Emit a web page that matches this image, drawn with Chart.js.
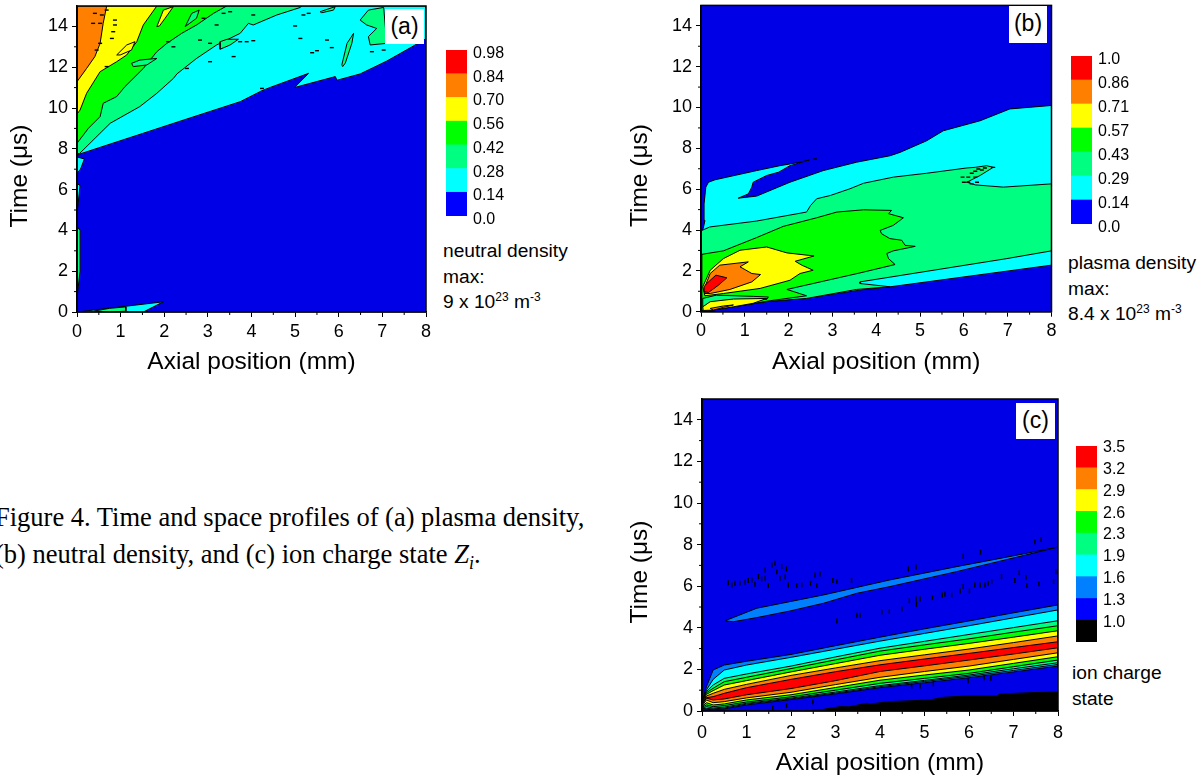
<!DOCTYPE html>
<html>
<head>
<meta charset="utf-8">
<title>Figure 4</title>
<script src="https://cdn.jsdelivr.net/npm/chart.js@4"></script>
<style>
    html, body { margin: 0; background: #fff; overflow: hidden; }
    body { width: 1204px; height: 780px; position: relative; font-family: "Liberation Sans", Arial, sans-serif; color: #000; }
    canvas { position: absolute; }
    .tag { position: absolute; background: #fff; font-size: 23px; text-align: center; line-height: 35px; }
    .note { position: absolute; font-size: 19.2px; line-height: 25.5px; white-space: nowrap; }
    .note sup { font-size: 12px; line-height: 0; }
    #caption { position: absolute; left: -5px; top: 499px; font-family: "Liberation Serif", serif; font-size: 26.5px; line-height: 37px; white-space: nowrap; }
    #caption sub { font-size: 18px; line-height: 0; }
</style>
</head>
<body>
<canvas id="chart-a" width="440" height="385" style="left:0;top:0"></canvas>
<canvas id="chart-b" width="440" height="385" style="left:620px;top:0"></canvas>
<canvas id="chart-c" width="450" height="390" style="left:620px;top:390px"></canvas>
<canvas id="bar-a" width="90" height="200" style="left:440px;top:35px"></canvas>
<canvas id="bar-b" width="90" height="200" style="left:1065px;top:41px"></canvas>
<canvas id="bar-c" width="90" height="226" style="left:1070px;top:431px"></canvas>

<div class="tag" style="left:385px;top:9px;width:39px;height:35px">(a)</div>
<div class="tag" style="left:1009px;top:6px;width:38px;height:37px">(b)</div>
<div class="tag" style="left:1016px;top:403px;width:39px;height:36px">(c)</div>

<div class="note" style="left:443px;top:238px">neutral density<br>max:<br>9 x 10<sup>23</sup> m<sup>-3</sup></div>
<div class="note" style="left:1068px;top:250px">plasma density<br>max:<br>8.4 x 10<sup>23</sup> m<sup>-3</sup></div>
<div class="note" style="left:1072px;top:660px">ion charge<br>state</div>
<div id="caption">Figure 4. Time and space profiles of (a) plasma density,<br>(b) neutral density, and (c) ion charge state <i>Z<sub>i</sub></i>.</div>

<script>
const BLUE = '#0000e6', LIGHT = '#0080ff', CYAN = '#00ffff', SPRING = '#00ff80';
const GREEN = '#00ff00', YELLOW = '#ffff00', ORANGE = '#ff8000', RED = '#ff0000';

const xTicksMinor = [0.5, 1.5, 2.5, 3.5, 4.5, 5.5, 6.5, 7.5];
const yTicksMinor = [1, 3, 5, 7, 9, 11, 13];
const plotBox = [[0, 0], [8, 0], [8, 15], [0, 15]];

// colour bars, bottom to top
const barColorsA = ['#0000ff', CYAN, SPRING, GREEN, YELLOW, ORANGE, RED];
const barLabelsA = ['0.0', '0.14', '0.28', '0.42', '0.56', '0.70', '0.84', '0.98'];
const barLabelsB = ['0.0', '0.14', '0.29', '0.43', '0.57', '0.71', '0.86', '1.0'];
const barColorsC = ['#000000', '#0000ff', LIGHT, CYAN, SPRING, GREEN, YELLOW, ORANGE, RED];
const barLabelsC = ['', '1.0', '1.3', '1.6', '1.9', '2.3', '2.6', '2.9', '3.2', '3.5'];

// panel (a) regions, [axial mm, time us]
const aCyan = [[0, 7.7], [0.5, 8.05], [1.5, 8.75], [2.5, 9.45], [3.74, 10.31], [4.24, 10.85], [4.43, 11.01], [5.31, 11.7], [4.98, 11.0], [5.92, 11.54], [5.96, 11.36], [6.49, 11.67], [7.1, 12.3], [7.68, 13.0], [8, 13.4], [8, 15], [0, 15]];
const aCyanStrip = [[0, 7.6], [0.17, 7.5], [0.08, 7.0], [0, 6.8]];
const aStripLow = [[0, 0.7], [0.07, 2.0], [0.07, 4.0], [0, 4.2]];
const aStripMid = [[0, 4.8], [0.07, 6.2], [0, 6.3]];
const aSpring = [[0.05, 7.75], [0.76, 9.25], [1.44, 10.07], [1.83, 10.72], [2.21, 11.45], [2.29, 11.67], [2.74, 12.43], [3.2, 13.09], [3.74, 13.66], [3.93, 14.15], [4.04, 14.07], [4.58, 14.56], [5.12, 14.93], [5.15, 15], [0, 15], [0, 7.8]];
const aGreen = [[0, 8.27], [0.26, 9.0], [0.53, 9.58], [0.6, 10.23], [0.91, 10.56], [1.1, 11.05], [1.52, 11.94], [1.83, 12.76], [2.06, 13.17], [2.4, 13.66], [2.74, 14.07], [3.13, 14.64], [3.43, 15], [0, 15]];
const aYellow = [[0.07, 9.9], [0.22, 10.72], [0.53, 11.78], [0.91, 12.27], [1.14, 12.6], [1.37, 13.25], [1.52, 14.07], [1.83, 15], [0, 15], [0, 9.7]];
const aOrange = [[0, 11.29], [0.22, 11.94], [0.41, 12.52], [0.53, 13.17], [0.6, 14.15], [0.68, 15], [0, 15]];
const aSliverCyan = [[0, 0], [1.98, 0.5], [1.52, 0]];
const aSliverSpring = [[0.4, 0.05], [0.75, 0.18], [1.12, 0.25], [1.12, 0.04], [0.75, 0]];
const aIslandsSpring = [
    [[1.25, 12.19], [1.44, 12.35], [1.83, 12.43], [1.6, 12.11], [1.29, 12.03]],
    [[2.48, 13.99], [2.63, 14.64], [2.8, 14.8], [2.74, 14.4]],
    [[3.28, 12.88], [3.51, 13.09], [3.7, 13.37], [3.44, 13.37], [3.28, 13.25]],
    [[6.49, 14.31], [6.68, 14.8], [7.03, 14.93], [7.1, 13.17], [6.72, 13.09], [6.68, 13.5], [6.87, 13.9], [6.64, 14.07]],
    [[6.07, 12.11], [6.19, 13.17], [6.34, 13.66], [6.3, 13.17], [6.15, 12.2], [6.09, 12.03]],
    [[5.57, 14.72], [5.92, 14.97], [5.88, 14.8], [5.61, 14.67]]
];
const aIslandsYellow = [
    [[0.91, 12.6], [1.14, 13.09], [1.33, 13.25], [1.25, 12.84], [0.99, 12.6]],
    [[1.83, 13.99], [1.98, 14.8], [2.21, 14.97], [2.02, 14.4], [1.89, 14.02]]
];
const aSpecks = [[0.68, 14.8], [0.57, 14.56], [0.41, 14.64], [0.37, 14.15], [0.53, 14.15], [0.87, 14.31], [0.87, 14.07], [0.83, 13.74], [0.8, 13.41], [0.45, 12.84], [0.53, 13.17], [0.68, 12.03], [2.09, 13.25], [2.21, 13.0], [2.82, 13.33], [3.05, 13.17], [3.05, 12.27], [3.59, 12.52], [3.2, 14.07], [2.9, 14.4], [3.36, 14.64], [3.51, 14.72], [2.52, 11.94], [4.04, 14.56], [5.19, 14.56], [5.31, 14.64], [5.12, 13.41], [5.73, 13.33], [5.84, 12.96], [5.5, 12.81], [5.39, 12.71], [3.74, 13.25], [3.89, 13.25], [4.04, 13.3], [4.24, 10.96], [6.76, 12.76], [7.03, 12.84], [5.0, 14.02]];

// panel (b) regions
const bCyan = [[0.05, 4.07], [0.09, 4.47], [0.07, 5.28], [0.11, 6.1], [0.17, 6.34], [0.32, 6.46], [1.27, 6.91], [1.8, 7.15], [2.26, 7.32], [2.47, 7.43], [2.03, 7.15], [1.77, 6.83], [1.5, 6.67], [1.19, 6.34], [1.16, 6.1], [1.08, 5.77], [0.85, 5.56], [1.27, 5.66], [2.03, 6.34], [2.79, 6.91], [3.55, 7.32], [4.32, 7.64], [4.54, 7.8], [5.15, 8.37], [5.53, 8.86], [6.37, 9.35], [7.05, 9.93], [8, 10.1], [8, 2.28], [4.32, 1.22], [3.63, 1.06], [2.41, 0.65], [1.5, 0.49], [0.2, 0.08], [0, 0], [0, 3.9]];
const bSpring = [[0.02, 3.98], [0.2, 4.15], [1.27, 4.44], [2.41, 4.88], [2.5, 5.2], [2.64, 5.53], [2.95, 5.69], [3.4, 6.02], [3.71, 6.29], [4.39, 6.59], [5.15, 6.78], [6.07, 7.04], [6.26, 7.07], [6.52, 7.15], [6.67, 7.07], [6.37, 6.67], [6.14, 6.42], [6.07, 6.34], [6.26, 6.21], [6.9, 6.1], [8, 6.26], [8, 2.98], [6.98, 2.6], [3.63, 1.46], [3.63, 1.38], [4.32, 1.22], [3.55, 1.09], [2.41, 0.65], [1.5, 0.5], [0.6, 0.2], [0, 0], [0, 3.9]];
const bGreen = [[0.02, 2.81], [0.51, 2.98], [1.27, 3.63], [1.88, 4.18], [2.64, 4.6], [3.1, 4.88], [3.71, 4.99], [4.35, 4.96], [4.28, 4.8], [4.62, 4.6], [4.39, 4.23], [4.09, 3.98], [4.12, 3.82], [4.31, 3.58], [4.58, 3.5], [4.66, 3.25], [4.89, 3.2], [4.39, 2.98], [4.24, 2.85], [4.28, 2.6], [4.43, 2.31], [3.63, 1.9], [1.96, 1.09], [2.41, 0.78], [1.58, 0.54], [0.51, 0.16], [0, 0.05]];
const bYellow = [[0.04, 1.22], [0.21, 2.03], [0.51, 2.6], [0.89, 3.01], [1.5, 3.17], [1.96, 2.88], [2.58, 2.73], [2.15, 2.47], [2.3, 2.28], [2.56, 2.03], [2.26, 1.87], [2.03, 1.54], [1.35, 1.14], [0.51, 0.89], [0.09, 0.78]];
const bOrange = [[0.09, 1.22], [0.21, 1.87], [0.43, 2.28], [1.08, 2.44], [0.89, 2.2], [1.16, 1.87], [1.36, 1.82], [1.16, 1.46], [0.66, 1.09], [0.21, 0.89], [0.07, 0.89]];
const bRed = [[0.07, 1.22], [0.13, 1.38], [0.34, 1.79], [0.59, 1.66], [0.4, 1.3], [0.17, 0.94], [0.07, 0.98]];
const bBandSpring = [[0.04, 0.65], [0.35, 0.81], [1.2, 0.75], [1.54, 0.72], [1.5, 0.6], [0.74, 0.55], [0.21, 0.42], [0.04, 0.24]];
const bBandYellow = [[0.04, 0.24], [0.21, 0.49], [0.74, 0.62], [1.5, 0.65], [1.19, 0.41], [0.74, 0.24], [0.28, 0.08], [0.05, 0.06]];
const bBandOrange = [[0.21, 0.16], [0.51, 0.28], [0.74, 0.33], [0.51, 0.21], [0.28, 0.08]];
const bSpecks = [[6.67, 7.07], [6.48, 7.04], [6.41, 6.94], [6.33, 6.99], [6.26, 6.88], [6.18, 6.78], [6.1, 6.59], [6.26, 6.59], [6, 6.34], [6.1, 6.34], [6.18, 6.26], [6.3, 6.34], [5.97, 6.59], [2.6, 7.48]];

// panel (c) band edges read at these axial positions
const chargeX = [0.02, 0.1, 0.25, 0.5, 1, 2, 3, 4, 5, 6, 7, 8];
const lightUpper = [0.55, 1.17, 1.97, 2.21, 2.39, 2.72, 3.14, 3.55, 3.95, 4.33, 4.72, 5.1];
const cyanUpper = [0.52, 1.01, 1.52, 1.97, 2.21, 2.58, 2.97, 3.36, 3.73, 4.1, 4.48, 4.86];
const springUpper = [0.5, 0.93, 1.25, 1.57, 1.78, 2.16, 2.6, 3.02, 3.35, 3.68, 4.01, 4.34];
const greenUpper = [0.48, 0.88, 1.09, 1.41, 1.62, 2.04, 2.46, 2.88, 3.18, 3.47, 3.79, 4.1];
const yellowUpper = [0.46, 0.8, 0.98, 1.25, 1.46, 1.88, 2.28, 2.68, 2.97, 3.25, 3.55, 3.86];
const orangeUpper = [0.44, 0.72, 0.85, 1.04, 1.28, 1.71, 2.07, 2.42, 2.7, 2.98, 3.29, 3.61];
const redUpper = [0.4, 0.64, 0.69, 0.85, 1.12, 1.52, 1.89, 2.22, 2.5, 2.77, 3.05, 3.33];
const redLower = [0.38, 0.62, 0.53, 0.58, 0.78, 1.08, 1.46, 1.9, 2.17, 2.45, 2.74, 3.04];
const orangeLower = [0.3, 0.53, 0.4, 0.45, 0.63, 0.9, 1.27, 1.62, 1.9, 2.16, 2.48, 2.8];
const yellowLower = [0.25, 0.4, 0.29, 0.34, 0.53, 0.78, 1.13, 1.48, 1.73, 1.97, 2.29, 2.61];
const greenLower = [0.2, 0.29, 0.21, 0.26, 0.43, 0.68, 1.0, 1.33, 1.57, 1.81, 2.13, 2.45];
const springLower = [0.15, 0.21, 0.14, 0.19, 0.37, 0.62, 0.91, 1.22, 1.47, 1.73, 2.03, 2.32];
const cyanLower = [0.12, 0.13, 0.1, 0.14, 0.33, 0.58, 0.86, 1.17, 1.42, 1.67, 1.95, 2.24];
const lightLower = [0.1, 0.08, 0.06, 0.1, 0.29, 0.55, 0.82, 1.12, 1.36, 1.6, 1.88, 2.16];
const cLens = [[0.52, 4.34], [1.23, 4.94], [2.73, 5.58], [4.22, 6.3], [5.72, 6.94], [7.22, 7.55], [7.97, 7.87], [7.22, 7.47], [5.72, 6.7], [4.22, 5.98], [3.48, 5.66], [2.73, 5.18], [1.98, 4.81], [1.23, 4.49], [0.7, 4.29]];
const cBlack = [[2.3, 0], [2.7, 0.07], [3.1, 0.21], [3.3, 0.2], [3.7, 0.37], [3.78, 0.34], [4.22, 0.45], [5.12, 0.53], [5.42, 0.66], [5.95, 0.72], [6.62, 0.72], [6.7, 0.82], [7.37, 0.88], [8, 0.91], [8, 0]];
const cSpecks = [[0.59, 6.17], [0.67, 6.06], [0.74, 6.14], [0.85, 6.14], [0.97, 6.19], [1.04, 6.27], [1.12, 6.3], [1.19, 6.09], [1.27, 6.46], [1.34, 6.35], [1.42, 6.78], [1.42, 6.38], [1.57, 7.02], [1.64, 7.1], [1.68, 6.7], [1.75, 6.38], [1.79, 6.94], [1.87, 6.46], [1.9, 6.83], [1.49, 6.03], [1.94, 6.06], [2.13, 6.03], [2.24, 6.06], [2.44, 6.14], [2.54, 6.54], [2.65, 6.59], [2.58, 6.03], [2.94, 6.28], [3.03, 6.22], [3.36, 6.28], [4.64, 6.83], [4.81, 6.92], [5.87, 7.44], [6.26, 7.64], [7.48, 8.14], [7.62, 8.24], [3.03, 4.33], [3.48, 4.6], [3.55, 4.6], [4.04, 4.76], [4.21, 4.79], [4.49, 4.9], [4.66, 5.3], [4.81, 5.38], [4.9, 5.38], [4.82, 5.13], [5.18, 5.45], [5.4, 5.58], [5.46, 5.61], [5.61, 5.58], [5.8, 5.77], [5.87, 5.98], [6.01, 5.77], [6.13, 6.06], [6.25, 6.06], [6.36, 6.06], [6.43, 6.14], [6.51, 6.22], [6.73, 6.46], [7.03, 6.28], [7.13, 6.65], [7.28, 6.43], [7.3, 6.03], [7.57, 6.12], [7.9, 6.22], [7.95, 6.7], [1.59, 0.13], [1.9, 0.26], [2.49, 0.45], [4.71, 1.2], [4.9, 1.2], [5.2, 1.3], [5.98, 1.46], [6.34, 1.6], [6.49, 1.57]];

Chart.defaults.font.family = '"Liberation Sans", Arial, sans-serif';
Chart.defaults.color = '#000';

const toPoints = (list) => list.map(p => ({ x: p[0], y: p[1] }));

function polygon(list, color) {
    return {
        data: toPoints(list.concat([list[0]])),
        showLine: true,
        fill: 'shape',
        tension: 0,
        backgroundColor: color,
        borderColor: '#000',
        borderWidth: 1,
        pointRadius: 0
    };
}

function band(upper, lower, color) {
    const top = chargeX.map((x, i) => [x, upper[i]]);
    const bottom = chargeX.map((x, i) => [x, lower[i]]).reverse();
    return polygon(top.concat(bottom), color);
}

function specks(list, rotation, radius) {
    return {
        data: toPoints(list),
        showLine: false,
        pointStyle: 'line',
        pointRotation: rotation,
        pointRadius: radius,
        pointBorderWidth: 1.4,
        pointBorderColor: '#000'
    };
}

// frame round the plot and the short unlabelled ticks
const framePlugin = {
    id: 'frame',
    afterDraw(chart) {
        const { ctx, chartArea: area, scales } = chart;
        ctx.save();
        ctx.strokeStyle = '#000';
        ctx.lineWidth = 1;
        ctx.beginPath();
        xTicksMinor.forEach(v => {
            const px = scales.x.getPixelForValue(v);
            ctx.moveTo(px, area.bottom);
            ctx.lineTo(px, area.bottom + 3);
        });
        yTicksMinor.forEach(v => {
            const py = scales.y.getPixelForValue(v);
            ctx.moveTo(area.left, py);
            ctx.lineTo(area.left - 3, py);
        });
        ctx.stroke();
        ctx.lineWidth = 1.5;
        ctx.strokeRect(area.left, area.top, area.right - area.left, area.bottom - area.top);
        ctx.restore();
    }
};

function drawPanel(id, layers, box) {
    new Chart(document.getElementById(id), {
        type: 'scatter',
        data: { datasets: layers.slice().reverse() },
        options: {
            responsive: false,
            animation: false,
            events: [],
            layout: { padding: { top: box.top, right: box.right, left: 0, bottom: 0 } },
            plugins: { legend: { display: false }, tooltip: { enabled: false } },
            scales: {
                x: {
                    type: 'linear', min: 0, max: 8,
                    ticks: { stepSize: 1, padding: box.xTickPad, maxRotation: 0, includeBounds: false, font: { size: 18 } },
                    grid: { drawOnChartArea: false, tickLength: 5, color: '#000', tickWidth: 1 },
                    border: { color: '#000', width: 1.5 },
                    title: { display: true, text: 'Axial position (mm)', font: { size: 24.5 }, padding: { top: 0, bottom: box.titleBottom } },
                    afterFit(scale) {
                        scale.height = box.xHeight;
                        scale.paddingLeft = 0;
                        scale.paddingRight = 0;
                    }
                },
                y: {
                    type: 'linear', min: 0, max: 15,
                    ticks: { stepSize: 2, padding: 4, includeBounds: false, font: { size: 18 } },
                    grid: { drawOnChartArea: false, tickLength: 5, color: '#000', tickWidth: 1 },
                    border: { color: '#000', width: 1.5 },
                    // trailing spaces push the title below the middle of the axis, as in the figure
                    title: { display: true, text: 'Time (\u03bcs)     ', font: { size: 24.5 }, padding: { top: box.titleLeft, bottom: 0 } },
                    afterFit(scale) {
                        scale.width = box.yWidth;
                        scale.paddingTop = 0;
                        scale.paddingBottom = 0;
                    }
                }
            }
        },
        plugins: [framePlugin]
    });
}

// labelDrop: the figure's labels sit a little below the colour boundaries
function drawColorBar(id, colors, labels, padTop, padBottom, labelDrop) {
    new Chart(document.getElementById(id), {
        type: 'bar',
        data: {
            labels: [''],
            datasets: colors.map(c => ({ data: [1], backgroundColor: c, borderWidth: 0, barPercentage: 1, categoryPercentage: 1 }))
        },
        options: {
            responsive: false,
            animation: false,
            events: [],
            layout: { padding: { left: 6, top: padTop, bottom: padBottom, right: 0 } },
            plugins: { legend: { display: false }, tooltip: { enabled: false } },
            scales: {
                x: { stacked: true, display: false },
                y: {
                    stacked: true, position: 'right', min: 0, max: colors.length,
                    afterBuildTicks(scale) {
                        scale.ticks = labels.map((_, i) => ({ value: i - labelDrop }));
                    },
                    ticks: { autoSkip: false, padding: 6, font: { size: 16 }, callback: (v, i) => labels[i] },
                    grid: { display: false, drawTicks: false },
                    border: { display: false },
                    afterFit(scale) {
                        scale.width = 63;
                        scale.paddingTop = 0;
                        scale.paddingBottom = 0;
                    }
                }
            }
        }
    });
}

drawPanel('chart-a', [
    polygon(plotBox, BLUE),
    polygon(aCyan, CYAN),
    polygon(aCyanStrip, CYAN),
    polygon(aStripLow, SPRING),
    polygon(aStripMid, CYAN),
    polygon(aSliverCyan, CYAN),
    polygon(aSliverSpring, SPRING),
    ...aIslandsSpring.slice(3).map(p => polygon(p, SPRING)),
    polygon(aSpring, SPRING),
    polygon(aGreen, GREEN),
    ...aIslandsSpring.slice(0, 3).map(p => polygon(p, SPRING)),
    polygon(aYellow, YELLOW),
    ...aIslandsYellow.map(p => polygon(p, YELLOW)),
    polygon(aOrange, ORANGE),
    specks(aSpecks, 0, 2)
], { top: 6, right: 14, xHeight: 73, yWidth: 77, xTickPad: 4, titleBottom: 8, titleLeft: 6 });

drawPanel('chart-b', [
    polygon(plotBox, BLUE),
    polygon(bCyan, CYAN),
    polygon(bSpring, SPRING),
    polygon(bGreen, GREEN),
    polygon(bBandSpring, SPRING),
    polygon(bBandYellow, YELLOW),
    polygon(bBandOrange, ORANGE),
    polygon(bYellow, YELLOW),
    polygon(bOrange, ORANGE),
    polygon(bRed, RED),
    specks(bSpecks, 0, 2)
], { top: 3.5, right: 8.5, xHeight: 73.3, yWidth: 81, xTickPad: 4, titleBottom: 8, titleLeft: 6 });

drawPanel('chart-c', [
    polygon(plotBox, BLUE),
    polygon(cLens, LIGHT),
    polygon(cBlack, '#000'),
    band(lightUpper, lightLower, LIGHT),
    band(cyanUpper, cyanLower, CYAN),
    band(springUpper, springLower, SPRING),
    band(greenUpper, greenLower, GREEN),
    band(yellowUpper, yellowLower, YELLOW),
    band(orangeUpper, orangeLower, ORANGE),
    band(redUpper, redLower, RED),
    specks(cSpecks, 90, 2.5)
], { top: 9, right: 12, xHeight: 69, yWidth: 82, xTickPad: 6, titleBottom: 2, titleLeft: 6 });

drawColorBar('bar-a', barColorsA, barLabelsA, 15, 19, 0.15);
drawColorBar('bar-b', barColorsA, barLabelsB, 15, 17, 0.16);
drawColorBar('bar-c', barColorsC, barLabelsC, 15, 15, 0.09);
</script>
</body>
</html>
